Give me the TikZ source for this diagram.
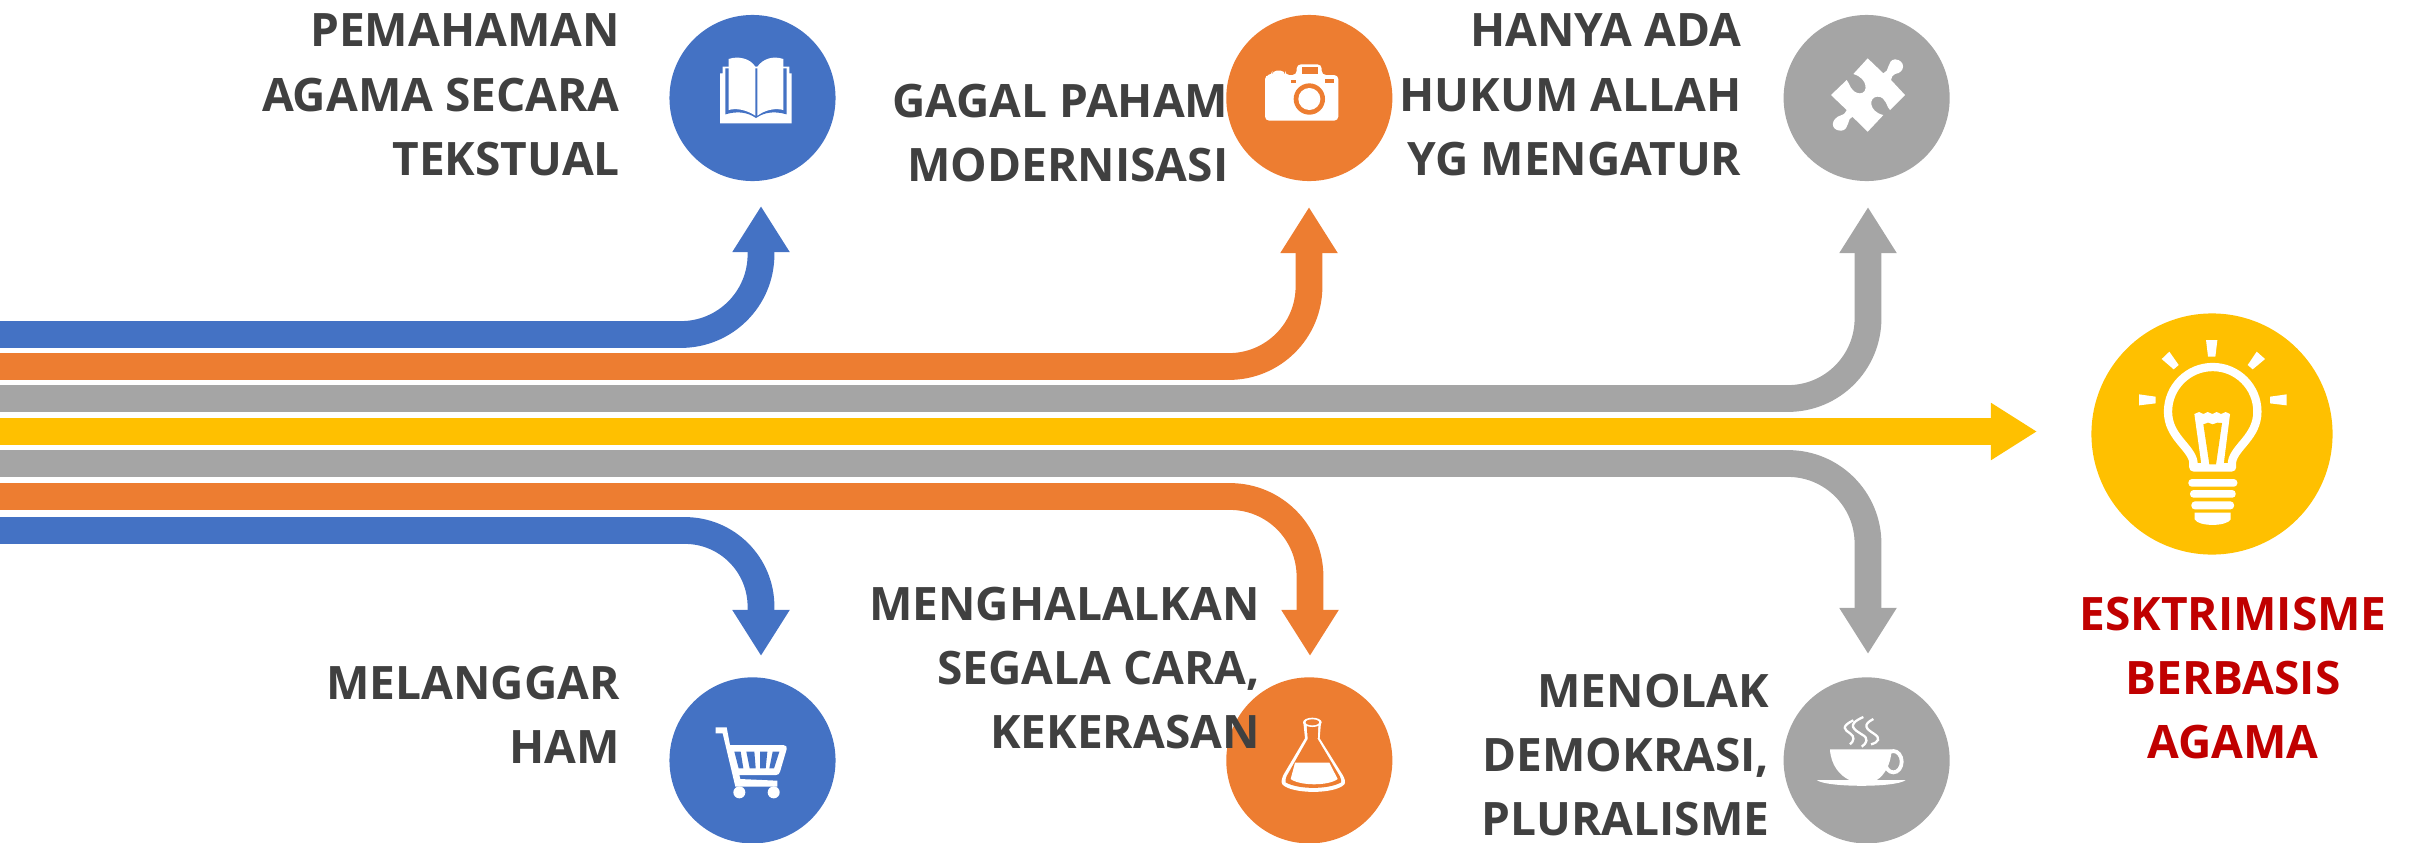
\documentclass[tikz,border=0pt]{standalone}
\usepackage{fontspec}
\setmainfont{Open Sans}
\usetikzlibrary{arrows.meta}
\definecolor{cblue}{HTML}{4472C4}
\definecolor{corange}{HTML}{ED7D31}
\definecolor{cgrey}{HTML}{A5A5A5}
\definecolor{cyellow}{HTML}{FFC000}
\definecolor{ctext}{HTML}{404040}
\definecolor{cred}{HTML}{C00000}
\begin{document}
\begin{tikzpicture}[
              x=0.01cm, y=-0.01cm,
              badge/.style={circle, fill=#1, inner sep=0pt, minimum size=1.66cm},
              band/.style={draw=#1, line width=0.268cm, rounded corners=0.8cm,
                -{Triangle[width=0.54cm, length=0.46cm]}},
              lbl/.style={anchor=base east, align=right, inner sep=0pt, text=ctext,
                font=\fontsize{13.1}{18.2}\selectfont\bfseries},
              icon/.style={x=0.03333mm, y=-0.03333mm}
            ]
              \useasboundingbox (0,0) rectangle (2414,842);

              % Define circle nodes
              \node[badge=cblue] (Book) at (752.5,98) {};
              \node[badge=corange, right of=Book, node distance=5.565cm] (Camera) {};
              \node[badge=cgrey, right of=Camera, node distance=5.57cm] (Puzzle) {};
              \node[badge=cblue, below of=Book, node distance=6.62cm] (Cart) {};
              \node[badge=corange, below of=Camera, node distance=6.62cm] (Flask) {};
              \node[badge=cgrey, below of=Puzzle, node distance=6.62cm] (Cup) {};
              \node[circle, fill=cyellow, inner sep=0pt, minimum size=2.41cm] (Bulb) at (2212,434) {};

              % Define ends of the bands
              \coordinate (S1) at (0,334.5);
              \coordinate (S2) at (0,366.5);
              \coordinate (S3) at (0,398.5);
              \coordinate (S4) at (0,431.5);
              \coordinate (S5) at (0,463.5);
              \coordinate (S6) at (0,496.5);
              \coordinate (S7) at (0,530.5);
              \coordinate (T1) at (761,206);
              \coordinate (T2) at (1309,207);
              \coordinate (T3) at (1868,207);
              \coordinate (T4) at (2037,431.5);
              \coordinate (T5) at (1868,654);
              \coordinate (T6) at (1310,656);
              \coordinate (T7) at (761,656);

              % Draw bands
              \draw[band=cblue] (S1) -| (T1);
              \draw[band=corange] (S2) -| (T2);
              \draw[band=cgrey] (S3) -| (T3);
              \draw[band=cyellow] (S4) -- (T4);
              \draw[band=cgrey] (S5) -| (T5);
              \draw[band=corange] (S6) -| (T6);
              \draw[band=cblue, rounded corners=0.76cm] (S7) -| (T7);

              % Add labels
              \node[lbl] (L1) at (620.5,175) {PEMAHAMAN\\AGAMA SECARA\\TEKSTUAL};
              \node[lbl] (L2) at (1229,181) {GAGAL PAHAM\\MODERNISASI};
              \node[lbl] (L3) at (1742,175) {HANYA ADA\\HUKUM ALLAH\\YG MENGATUR};
              \node[lbl] (L4) at (620.5,763) {MELANGGAR\\HAM};
              \node[lbl] (L5) at (1260.5,748) {MENGHALALKAN\\SEGALA CARA,\\KEKERASAN};
              \node[lbl] (L6) at (1770,835) {MENOLAK\\DEMOKRASI,\\PLURALISME};
              \node[lbl, anchor=base, align=center, text=cred] (L7) at (2233,758) {ESKTRIMISME\\BERBASIS\\AGAMA};

              % Book icon
              \begin{scope}[shift={(700,45)}, icon]
                \fill[white] (60,85) -- (68,85) -- (68,65) -- (268,65) -- (268,85) -- (275,85) -- (275,235) -- (60,235) -- cycle;
                \fill[cblue] (76,70) -- (260,70) -- (260,208) .. controls (225,198) and (195,200) .. (168,219) .. controls (140,200) and (110,198) .. (76,208) -- cycle;
                \fill[white] (86,42) .. controls (115,32) and (150,40) .. (166,65) -- (166,212) .. controls (140,195) and (110,188) .. (86,195) -- cycle;
                \fill[white] (172,65) .. controls (190,40) and (220,32) .. (250,42) -- (250,195) .. controls (225,188) and (195,195) .. (172,212) -- cycle;
              \end{scope}

              % Camera icon
              \begin{scope}[shift={(1255,50)}, icon]
                \fill[white, rounded corners=1.2pt] (30,75) -- (52,75) -- (52,62) -- (90,62) -- (90,75) -- (125,75) -- (125,43) -- (200,43) -- (200,75) -- (250,75) -- (250,212) -- (30,212) -- cycle;
                \fill[corange] (140,52) rectangle (188,73);
                \fill[corange] (107,90) rectangle (122,100);
                \fill[corange] (210,87) rectangle (238,100);
                \fill[corange] (163,147) circle[radius=47];
                \fill[white] (163,147) circle[radius=33];
              \end{scope}

              % Puzzle icon
              \begin{scope}[shift={(1815,50)}, icon]
                \fill[white] (158,25) -- (205,70) .. controls (225,65) and (215,30) .. (240,28) .. controls (272,30) and (272,68) .. (240,72) .. controls (232,74) and (230,82) .. (228,90) -- (270,135) -- (225,180) .. controls (215,175) and (215,140) .. (188,140) .. controls (160,140) and (160,185) .. (205,195) -- (158,245) -- (112,200) .. controls (95,205) and (105,240) .. (78,242) .. controls (45,242) and (45,205) .. (80,195) .. controls (90,192) and (92,185) .. (95,180) -- (48,135) -- (95,90) .. controls (105,100) and (105,128) .. (135,130) .. controls (160,130) and (160,85) .. (115,72) -- cycle;
              \end{scope}

              % Cart icon
              \begin{scope}[shift={(700,715)}, icon]
                \fill[white] (47,37) -- (80,37) -- (90,90) -- (250,90) .. controls (258,90) and (262,96) .. (260,102) -- (240,170) .. controls (238,177) and (234,180) .. (228,180) -- (118,180) -- (121,192) -- (232,197) -- (232,215) -- (106,215) -- (68,55) -- (47,55) -- cycle;
                \fill[cblue] (103,110) -- (122,110) -- (130,160) -- (116,160) -- cycle;
                \fill[cblue] (139,110) -- (163,110) -- (167,160) -- (149,160) -- cycle;
                \fill[cblue] (180,110) -- (202,110) -- (197,160) -- (180,160) -- cycle;
                \fill[cblue] (218,110) -- (238,110) -- (222,160) -- (208,160) -- cycle;
                \fill[white] (118,232) circle[radius=18];
                \fill[white] (221,232) circle[radius=18];
              \end{scope}

              % Flask icon
              \begin{scope}[shift={(1265,705)}, icon]
                \fill[white] (115,52) -- (120,100) -- (55,210) .. controls (50,222) and (48,232) .. (52,238) .. controls (80,268) and (210,268) .. (238,238) .. controls (242,232) and (240,222) .. (233,210) -- (164,100) -- (168,52) -- cycle;
                \fill[corange] (125,60) -- (128,102) -- (65,213) .. controls (62,222) and (60,228) .. (62,232) .. controls (100,254) and (190,254) .. (228,232) .. controls (230,228) and (228,222) .. (224,213) -- (158,102) -- (160,60) -- cycle;
                \fill[white] (90,173) -- (193,173) -- (218,222) .. controls (190,243) and (105,243) .. (77,222) -- cycle;
                \fill[white] (142,52) ellipse[x radius=28, y radius=14];
                \fill[corange] (142,52) ellipse[x radius=20, y radius=9];
              \end{scope}

              % Cup icon
              \begin{scope}[shift={(1810,705)}, icon]
                \draw[white, line width=0.38mm] (250,170) ellipse[x radius=25, y radius=32];
                \fill[white] (60,133) -- (245,133) .. controls (243,175) and (225,210) .. (200,225) -- (118,225) .. controls (90,212) and (62,180) .. (60,133) -- cycle;
                \fill[white] (20,225) -- (287,225) .. controls (260,248) and (50,248) .. (20,225) -- cycle;
                \draw[white, line width=0.23mm] (130,46) .. controls (90,65) and (105,75) .. (120,85) .. controls (135,95) and (132,108) .. (120,118);
                \draw[white, line width=0.23mm] (160,36) .. controls (105,60) and (135,75) .. (155,88) .. controls (178,100) and (170,115) .. (155,125);
                \draw[white, line width=0.23mm] (190,42) .. controls (155,60) and (170,72) .. (190,85) .. controls (215,100) and (205,112) .. (183,118);
              \end{scope}

              % Bulb icon
              \begin{scope}[shift={(2130,330)}, icon]
                \fill[white] (228,30) -- (262,30) -- (256,80) -- (234,80) -- cycle;
                \fill[white] (118,65) -- (146,105) -- (131,118) -- (95,87) -- cycle;
                \fill[white] (380,65) -- (405,87) -- (368,118) -- (353,105) -- cycle;
                \fill[white] (27,193) -- (77,200) -- (77,220) -- (27,226) -- cycle;
                \fill[white] (470,193) -- (470,226) -- (420,220) -- (420,200) -- cycle;
                \draw[white, line width=0.83mm, line join=round] (190,412) -- (190,395) .. controls (182,350) and (114,320) .. (114,245) arc[start angle=180, end angle=360, radius=134] .. controls (382,320) and (314,350) .. (306,395) -- (306,412) -- cycle;
                \fill[white] (193,252) -- (207,246) -- (220,252) -- (233,246) -- (247,252) -- (260,246) -- (273,252) -- (287,246) -- (300,252) -- (280,410) -- (215,410) -- cycle;
                \fill[cyellow] (220,283) -- (234,278) -- (248,283) -- (262,278) -- (276,279) -- (258,403) -- (238,403) -- cycle;
                \fill[white, rounded corners=1pt] (175,447) rectangle (322,470);
                \fill[white, rounded corners=1pt] (180,480) rectangle (317,503);
                \fill[white, rounded corners=1pt] (184,514) rectangle (312,538);
                \fill[white] (194,548) -- (302,548) -- (302,568) .. controls (290,590) and (205,590) .. (194,568) -- cycle;
              \end{scope}
            \end{tikzpicture}
\end{document}
